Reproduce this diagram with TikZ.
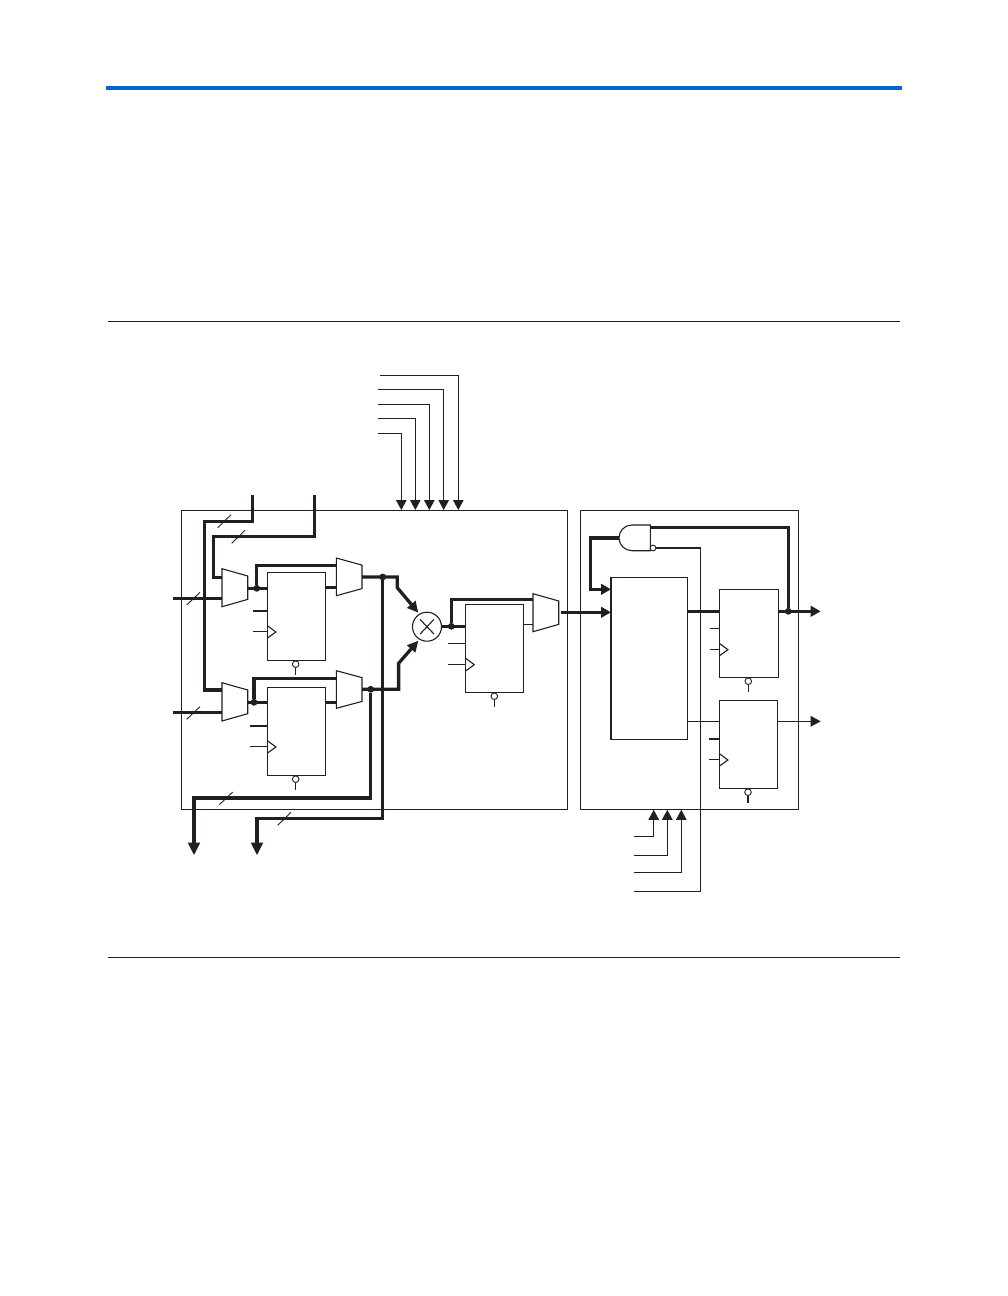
\documentclass[tikz,border=0pt]{standalone}
\usetikzlibrary{arrows.meta,calc}
\definecolor{ink}{HTML}{231F20}
\definecolor{hdr}{HTML}{0066CC}
\tikzset{
  bus/.style={draw=ink,line width=3.3pt,miter limit=10},
  wire/.style={draw=ink,line width=1.1pt},
  regbox/.style={draw=ink,line width=1.1pt,fill=white,inner sep=0pt,outer sep=0pt,rectangle},
  framebox/.style={draw=ink,line width=1.1pt,inner sep=0pt,outer sep=0pt,rectangle},
  muxframe/.style={inner sep=0pt,outer sep=0pt,rectangle},
  muxshape/.style={draw=ink,line width=1.1pt,fill=white,line join=miter},
  dotn/.style={circle,fill=ink,inner sep=0pt,minimum size=6.8pt,outer sep=0pt},
  bubble/.style={circle,draw=ink,line width=0.9pt,fill=white,inner sep=0pt,minimum size=6.6pt,outer sep=0pt},
  bigtip/.style={-{Triangle[length=12.7pt,width=11.5pt]}},
  midtip/.style={-{Triangle[length=10pt,width=10.5pt]}},
  rule/.style={draw=ink,line width=0.9pt},
  hash/.style={draw=ink,line width=0.9pt}
}
% box from corners
\newcommand{\mkbox}[6]{\node[#2,minimum width=#5pt-#3pt,minimum height=#6pt-#4pt] (#1) at ({(#3+#5)/2},{(#4+#6)/2}) {};}
% mux: name, x1, y top, y bottom, inset
\newcommand{\mkmux}[5]{%
  \node[muxframe,minimum width=25.7pt,minimum height=#4pt-#3pt] (#1) at ({#2+12.85},{(#3+#4)/2}) {};
  \draw[muxshape] (#1.north west) -- ($(#1.north east)+(0,#5)$) -- ($(#1.south east)+(0,-#5)$) -- (#1.south west) -- cycle;}
% register details: name, stub x, stub y, clock y, bubble x
\newcommand{\regparts}[5]{%
  \coordinate (#1s) at (#2,#3); \coordinate (#1c) at (#2,#4);
  \draw[wire] (#1s) -- (#1.west |- #1s);
  \draw[wire] (#1c) -- (#1.west |- #1c);
  \draw[wire,line join=miter] ($(#1.west |- #1c)+(0,-6)$) -- ($(#1.west |- #1c)+(8.6,0.4)$) -- ($(#1.west |- #1c)+(0,6.6)$);
  \path (#5,0) coordinate (#1bx);
  \coordinate (#1e) at ($(#1bx |- #1.south)+(0,14.5)$);
  \node[bubble] (#1b) at ($(#1bx |- #1.south)+(0,3.9)$) {};
  \draw[wire] (#1b) -- (#1e);}
\begin{document}
\begin{tikzpicture}[x=1pt,y=-1pt]
\useasboundingbox (0,0) rectangle (1008,1296);
% header and rules
\fill[hdr] (106,86) rectangle (902,90.3);
\coordinate (r1a) at (108,321.7); \coordinate (r1b) at (900,321.7);
\coordinate (r2a) at (108,957.7); \coordinate (r2b) at (900,957.7);
\draw[rule] (r1a) -- (r1b);
\draw[rule] (r2a) -- (r2b);
% outer frames
\mkbox{dsp}{framebox}{181.7}{510.3}{567.7}{809.3}
\mkbox{outp}{framebox}{580.3}{510.3}{798.3}{809.3}
% top control wires
\coordinate (t1) at (377.7,433.3); \coordinate (t2) at (377.7,418.3);
\coordinate (t3) at (377.7,404.3); \coordinate (t4) at (377.7,389.3);
\coordinate (t5) at (380,375.3);
\coordinate (d1) at (401.3,510); \coordinate (d2) at (415.3,510);
\coordinate (d3) at (429.3,510); \coordinate (d4) at (443.7,510);
\coordinate (d5) at (458.3,510);
\foreach \i in {1,...,5}{\draw[wire,midtip] (t\i) -| (d\i);}
% bottom control wires
\coordinate (b1) at (634.3,836.3); \coordinate (b2) at (634.3,855.3);
\coordinate (b3) at (634.3,872.3); \coordinate (b4) at (634.3,891.3);
\coordinate (u1) at (653.7,809.8); \coordinate (u2) at (667.3,809.8);
\coordinate (u3) at (681.3,809.8);
\foreach \i in {1,2,3}{\draw[wire,midtip] (b\i) -| (u\i);}
% registers and blocks
\mkbox{reg1}{regbox}{267.3}{572.3}{325.7}{660.3}
\mkbox{reg2}{regbox}{267.3}{687.3}{325.7}{775.3}
\mkbox{reg3}{regbox}{465.7}{604.3}{523.3}{692.3}
\mkbox{reg4}{regbox}{719.3}{589.3}{778.7}{677.3}
\mkbox{reg5}{regbox}{719.3}{700.3}{777.7}{788.3}
\mkbox{blk}{regbox}{611}{577.3}{687.3}{739.3}
\regparts{reg1}{253.3}{611}{631.6}{295.7}
\regparts{reg2}{250}{726}{746.6}{295.7}
\regparts{reg3}{448.3}{643.3}{664.3}{494.3}
\regparts{reg4}{710}{628.3}{649.3}{748.3}
\regparts{reg5}{709}{739}{759.6}{748}
% AND gate with inverted input
\node[muxframe,minimum width=31.3pt,minimum height=25.7pt] (gate) at (634.65,537.85) {};
\draw[muxshape] (gate.north east) -- ($(gate.north west)+(12.85,0)$) arc[start angle=90,end angle=270,radius=12.85pt] -- (gate.south east) -- cycle;
\node[bubble,minimum size=5.8pt] (inv) at (653,548) {};
\draw[wire] (inv) -| (700.7,891.3) -- (b4);
% thin data path
\coordinate (o5) at (820.7,721.3);
\draw[wire] (blk.east |- o5) -- (reg5.west |- o5);
\draw[wire,midtip] (reg5.east |- o5) -- (o5);
% multiplexers
\mkmux{mx1}{222}{568.7}{606.7}{7.3}
\mkmux{mx2}{336.3}{558}{595.7}{7.1}
\mkmux{mx3}{222}{682.7}{721}{7.3}
\mkmux{mx4}{336.3}{670.7}{708.3}{6.9}
\mkmux{mx5}{533}{593.7}{631.7}{7.3}
% multiplier
\node[circle,draw=ink,line width=1.1pt,fill=white,minimum size=29pt,inner sep=0pt,outer sep=0pt] (mul) at (427,626.7) {};
\draw[wire] ($(mul)+(-7,-7.4)$) -- ($(mul)+(7,7.4)$);
\draw[wire] ($(mul)+(-7,7.4)$) -- ($(mul)+(7,-7.4)$);
\coordinate (mt) at (418.3,612.7); \coordinate (mb) at (418.3,640.7);
% buses into first stage
\coordinate (top1) at (252.3,495); \coordinate (top2) at (314.3,495);
\coordinate (in1) at (173.3,598.3); \coordinate (in2) at (173.3,712.3);
\draw[bus] (top1) |- (204.3,521.3) |- (mx3.west |- 0,690);
\draw[bus] (top2) |- (213.3,536.3) |- (mx1.west |- 0,577.7);
\draw[bus] (in1) -- (mx1.west |- in1);
\draw[bus] (in2) -- (mx3.west |- in2);
% reg1 path
\node[dotn] (j1) at (256.7,588.3) {};
\draw[bus] (mx1.east |- j1) -- (reg1.west |- j1);
\draw[bus] (j1) |- (mx2.west |- 0,565.7);
\draw[bus] (reg1.east |- 0,587.3) -- (mx2.west |- 0,587.3);
% reg2 path
\node[dotn] (j2) at (254,702.3) {};
\draw[bus] (mx3.east |- j2) -- (reg2.west |- j2);
\draw[bus] (j2) |- (mx4.west |- 0,678.3);
\draw[bus] (reg2.east |- 0,702.3) -- (mx4.west |- 0,702.3);
% to multiplier
\node[dotn] (j3) at (382.7,577) {};
\node[dotn] (j4) at (370.7,689.3) {};
\draw[bus,-{Triangle[length=11pt,width=10.5pt]}] (mx2.east |- j3) -| (397.3,587.7) -- (mt);
\draw[bus,-{Triangle[length=11pt,width=10.5pt]}] (mx4.east |- j4) -| (398.6,663.3) -- (mb);
% chain-out buses
\coordinate (out1) at (194,855.3); \coordinate (out2) at (257,855.3);
\draw[bus,bigtip] (j4) |- (194,798) -- (out1);
\draw[bus,bigtip] (j3) |- (257,818.3) -- (out2);
% multiplier to reg3
\node[dotn] (j5) at (451.3,626.3) {};
\draw[bus] (mul.east |- j5) -- (reg3.west |- j5);
\draw[bus] (j5) |- (mx5.west |- 0,599.3);
\draw[wire] (reg3.east |- 0,624.7) -- (mx5.west |- 0,624.7);
\draw[bus,midtip] (561,612.3) -- (blk.west |- 0,612.3);
% output stage
\node[dotn] (j6) at (788.3,611.3) {};
\coordinate (o4) at (820.7,611.3);
\draw[bus] (blk.east |- o4) -- (reg4.west |- o4);
\draw[bus,midtip] (reg4.east |- o4) -- (o4);
\draw[bus] (j6) |- (gate.east |- 0,527.3);
\draw[bus,midtip] (gate.west) -| (590.3,589.3) -- (blk.west |- 0,589.3);
% bus width marks
\draw[hash] (217.7,527.7) -- (231,514.7);
\draw[hash] (231.7,543.3) -- (245,530.3);
\draw[hash] (186.7,605) -- (200,592.3);
\draw[hash] (186.7,719.3) -- (200,706.7);
\draw[hash] (219.3,804.7) -- (232.7,792);
\draw[hash] (277.7,825.3) -- (291,812.3);
\end{tikzpicture}
\end{document}
